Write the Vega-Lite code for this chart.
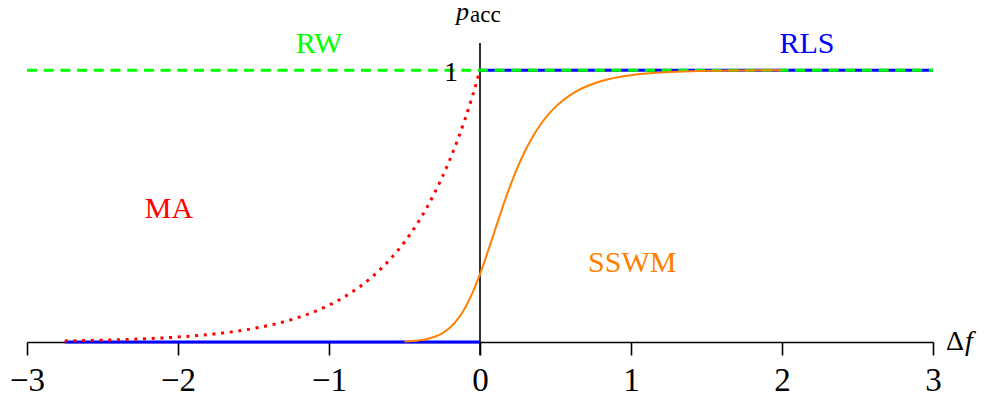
{
  "$schema": "https://vega.github.io/schema/vega-lite/v6.json",
  "width": 906,
  "height": 299,
  "autosize": {"type": "none"},
  "padding": {"left": 27, "top": 43, "right": 53, "bottom": 59},
  "background": "white",
  "config": {
    "view": {"stroke": null},
    "font": "Times New Roman, Liberation Serif, serif"
  },
  "datasets": {
    "curves": [
      {"f": -2.75, "p": 0, "series": "RLS", "seg": "a"},
      {"f": 0, "p": 0, "series": "RLS", "seg": "a"},
      {"f": 0, "p": 1, "series": "RLS", "seg": "b"},
      {"f": 3, "p": 1, "series": "RLS", "seg": "b"},
      {"f": -3, "p": 1, "series": "RW", "seg": "a"},
      {"f": 3, "p": 1, "series": "RW", "seg": "a"},
      {"f": -2.75, "p": 0.004087, "series": "MA", "seg": "a"},
      {"f": -2.5, "p": 0.006738, "series": "MA", "seg": "a"},
      {"f": -2.25, "p": 0.011109, "series": "MA", "seg": "a"},
      {"f": -2.0, "p": 0.018316, "series": "MA", "seg": "a"},
      {"f": -1.75, "p": 0.030197, "series": "MA", "seg": "a"},
      {"f": -1.5, "p": 0.049787, "series": "MA", "seg": "a"},
      {"f": -1.25, "p": 0.082085, "series": "MA", "seg": "a"},
      {"f": -1.0, "p": 0.135335, "series": "MA", "seg": "a"},
      {"f": -0.9, "p": 0.165299, "series": "MA", "seg": "a"},
      {"f": -0.8, "p": 0.201897, "series": "MA", "seg": "a"},
      {"f": -0.7, "p": 0.246597, "series": "MA", "seg": "a"},
      {"f": -0.6, "p": 0.301194, "series": "MA", "seg": "a"},
      {"f": -0.5, "p": 0.367879, "series": "MA", "seg": "a"},
      {"f": -0.4, "p": 0.449329, "series": "MA", "seg": "a"},
      {"f": -0.3, "p": 0.548812, "series": "MA", "seg": "a"},
      {"f": -0.2, "p": 0.67032, "series": "MA", "seg": "a"},
      {"f": -0.1, "p": 0.818731, "series": "MA", "seg": "a"},
      {"f": -0.05, "p": 0.904837, "series": "MA", "seg": "a"},
      {"f": 0, "p": 1.0, "series": "MA", "seg": "a"},
      {"f": -0.5, "p": 0.002144, "series": "SSWM", "seg": "a"},
      {"f": -0.45, "p": 0.003773, "series": "SSWM", "seg": "a"},
      {"f": -0.4, "p": 0.00658, "series": "SSWM", "seg": "a"},
      {"f": -0.35, "p": 0.01134, "series": "SSWM", "seg": "a"},
      {"f": -0.3, "p": 0.019253, "series": "SSWM", "seg": "a"},
      {"f": -0.25, "p": 0.032059, "series": "SSWM", "seg": "a"},
      {"f": -0.2, "p": 0.052079, "series": "SSWM", "seg": "a"},
      {"f": -0.15, "p": 0.082022, "series": "SSWM", "seg": "a"},
      {"f": -0.1, "p": 0.124416, "series": "SSWM", "seg": "a"},
      {"f": -0.05, "p": 0.180655, "series": "SSWM", "seg": "a"},
      {"f": 0, "p": 0.25, "series": "SSWM", "seg": "a"},
      {"f": 0.05, "p": 0.329179, "series": "SSWM", "seg": "a"},
      {"f": 0.1, "p": 0.41308, "series": "SSWM", "seg": "a"},
      {"f": 0.15, "p": 0.496203, "series": "SSWM", "seg": "a"},
      {"f": 0.2, "p": 0.574071, "series": "SSWM", "seg": "a"},
      {"f": 0.25, "p": 0.643915, "series": "SSWM", "seg": "a"},
      {"f": 0.3, "p": 0.704605, "series": "SSWM", "seg": "a"},
      {"f": 0.35, "p": 0.756199, "series": "SSWM", "seg": "a"},
      {"f": 0.4, "p": 0.799432, "series": "SSWM", "seg": "a"},
      {"f": 0.45, "p": 0.835325, "series": "SSWM", "seg": "a"},
      {"f": 0.5, "p": 0.864955, "series": "SSWM", "seg": "a"},
      {"f": 0.55, "p": 0.889331, "series": "SSWM", "seg": "a"},
      {"f": 0.6, "p": 0.909344, "series": "SSWM", "seg": "a"},
      {"f": 0.65, "p": 0.925754, "series": "SSWM", "seg": "a"},
      {"f": 0.7, "p": 0.93919, "series": "SSWM", "seg": "a"},
      {"f": 0.75, "p": 0.950213, "series": "SSWM", "seg": "a"},
      {"f": 0.8, "p": 0.959238, "series": "SSWM", "seg": "a"},
      {"f": 0.85, "p": 0.966627, "series": "SSWM", "seg": "a"},
      {"f": 0.9, "p": 0.972676, "series": "SSWM", "seg": "a"},
      {"f": 0.95, "p": 0.977629, "series": "SSWM", "seg": "a"},
      {"f": 1.0, "p": 0.981684, "series": "SSWM", "seg": "a"},
      {"f": 1.1, "p": 0.987723, "series": "SSWM", "seg": "a"},
      {"f": 1.2, "p": 0.99177, "series": "SSWM", "seg": "a"},
      {"f": 1.3, "p": 0.994483, "series": "SSWM", "seg": "a"},
      {"f": 1.4, "p": 0.996302, "series": "SSWM", "seg": "a"},
      {"f": 1.5, "p": 0.997521, "series": "SSWM", "seg": "a"},
      {"f": 1.6, "p": 0.998338, "series": "SSWM", "seg": "a"},
      {"f": 1.7, "p": 0.998886, "series": "SSWM", "seg": "a"},
      {"f": 1.8, "p": 0.999253, "series": "SSWM", "seg": "a"},
      {"f": 1.9, "p": 0.9995, "series": "SSWM", "seg": "a"},
      {"f": 2.0, "p": 0.999665, "series": "SSWM", "seg": "a"}
    ],
    "labels": [
      {"f": -1.066, "p": 1.064, "series": "RW", "label": "RW"},
      {"f": 2.165, "p": 1.064, "series": "RLS", "label": "RLS"},
      {"f": -2.06, "p": 0.458, "series": "MA", "label": "MA"},
      {"f": 1.008, "p": 0.258, "series": "SSWM", "label": "SSWM"}
    ]
  },
  "encoding": {
    "x": {
      "field": "f",
      "type": "quantitative",
      "scale": {"domain": [-3, 3], "nice": false, "zero": false},
      "axis": {
        "values": [-3, -2, -1, 0, 1, 2, 3],
        "format": "d",
        "title": null,
        "grid": false,
        "domainColor": "black",
        "domainWidth": 1.6,
        "tickColor": "black",
        "tickWidth": 1.6,
        "tickSize": 13,
        "labelFont": "Times New Roman, Liberation Serif, serif",
        "labelFontSize": 33,
        "labelColor": "black",
        "labelPadding": 9,
        "labelFlush": false,
        "labelOverlap": false
      }
    },
    "y": {
      "field": "p",
      "type": "quantitative",
      "scale": {"domain": [0, 1.1], "nice": false, "zero": false},
      "axis": null
    }
  },
  "layer": [
    {
      "data": {"values": [{"f": 0, "p": -0.049, "p2": 1.1}]},
      "mark": {"type": "rule", "color": "black", "strokeWidth": 1.6},
      "encoding": {"y2": {"field": "p2"}}
    },
    {
      "data": {"name": "curves"},
      "transform": [{"filter": "datum.series === 'RLS'"}],
      "mark": {"type": "line", "strokeWidth": 3, "strokeCap": "butt"},
      "encoding": {
        "detail": {"field": "seg"},
        "color": {"field": "series", "type": "nominal", "legend": null,
          "scale": {"domain": ["RW", "RLS", "MA", "SSWM"], "range": ["#00ff00", "#0000ff", "#ff0000", "#ff8000"]}}
      }
    },
    {
      "data": {"name": "curves"},
      "transform": [{"filter": "datum.series === 'RW'"}],
      "mark": {"type": "line", "strokeWidth": 3, "strokeDash": [10, 6.7], "strokeCap": "butt"},
      "encoding": {
        "color": {"field": "series", "type": "nominal", "legend": null}
      }
    },
    {
      "data": {"name": "curves"},
      "transform": [{"filter": "datum.series === 'MA'"}],
      "mark": {"type": "line", "strokeWidth": 3, "strokeDash": [3, 5.7], "strokeCap": "butt", "interpolate": "monotone"},
      "encoding": {
        "color": {"field": "series", "type": "nominal", "legend": null}
      }
    },
    {
      "data": {"name": "curves"},
      "transform": [{"filter": "datum.series === 'SSWM'"}],
      "mark": {"type": "line", "strokeWidth": 2, "interpolate": "monotone"},
      "encoding": {
        "color": {"field": "series", "type": "nominal", "legend": null}
      }
    },
    {
      "data": {"name": "labels"},
      "mark": {"type": "text", "fontSize": 30, "font": "Times New Roman, Liberation Serif, serif", "align": "center", "baseline": "alphabetic"},
      "encoding": {
        "text": {"field": "label"},
        "color": {"field": "series", "type": "nominal", "legend": null}
      }
    },
    {
      "data": {"values": [{"f": 0, "p": 1, "t": "1"}]},
      "mark": {"type": "text", "fontSize": 28, "font": "Times New Roman, Liberation Serif, serif", "align": "right", "baseline": "alphabetic", "dx": -22, "dy": 11, "color": "black"},
      "encoding": {"text": {"field": "t"}}
    },
    {
      "data": {"values": [{"f": 0, "p": 1.1, "t": "p"}]},
      "mark": {"type": "text", "fontSize": 26, "font": "Times New Roman, Liberation Serif, serif", "fontStyle": "italic", "align": "left", "baseline": "alphabetic", "dx": -24, "dy": -23, "color": "black"},
      "encoding": {"text": {"field": "t"}}
    },
    {
      "data": {"values": [{"f": 0, "p": 1.1, "t": "acc"}]},
      "mark": {"type": "text", "fontSize": 23, "font": "Times New Roman, Liberation Serif, serif", "align": "left", "baseline": "alphabetic", "dx": -10, "dy": -21, "color": "black"},
      "encoding": {"text": {"field": "t"}}
    },
    {
      "data": {"values": [{"f": 3, "p": 0, "t": "Δ"}]},
      "mark": {"type": "text", "fontSize": 28, "font": "Times New Roman, Liberation Serif, serif", "align": "left", "baseline": "alphabetic", "dx": 13, "dy": 8, "color": "black"},
      "encoding": {"text": {"field": "t"}}
    },
    {
      "data": {"values": [{"f": 3, "p": 0, "t": "f"}]},
      "mark": {"type": "text", "fontSize": 28, "font": "Times New Roman, Liberation Serif, serif", "fontStyle": "italic", "align": "left", "baseline": "alphabetic", "dx": 32, "dy": 8, "color": "black"},
      "encoding": {"text": {"field": "t"}}
    }
  ]
}
